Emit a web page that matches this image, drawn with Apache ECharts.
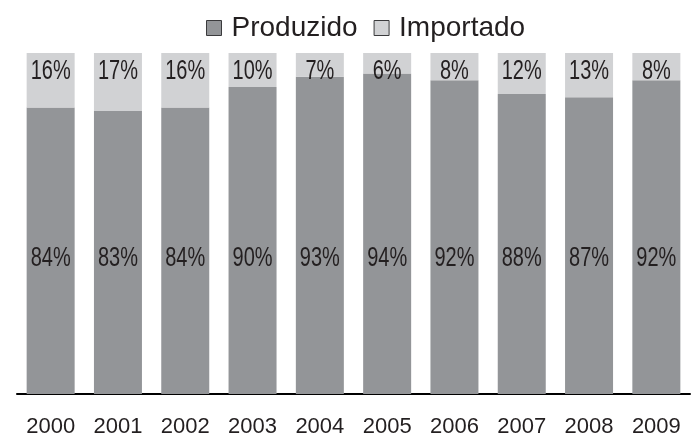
<!DOCTYPE html>
<html>
<head>
<meta charset="utf-8">
<script src="https://cdn.jsdelivr.net/npm/echarts@6/dist/echarts.min.js"></script>
<style>
html, body { margin: 0; padding: 0; background: #fff; }
#chart { width: 700px; height: 443px; }
</style>
</head>
<body>
<div id="chart"></div>
<script>
var years = ['2000', '2001', '2002', '2003', '2004', '2005', '2006', '2007', '2008', '2009'];
var produzido = [84, 83, 84, 90, 93, 94, 92, 88, 87, 92];
var importado = [16, 17, 16, 10, 7, 6, 8, 12, 13, 8];

var textColor = '#231f20';
var labelFont = '27px "Liberation Sans", Arial, sans-serif';

// value labels are drawn as narrow text (the original uses a condensed face)
var labelRows = years.map(function (y, i) {
    return [i, produzido[i], importado[i]];
});

function narrowText(x, y, text, vAlign) {
    return {
        type: 'text',
        x: x,
        y: y,
        scaleX: 0.74,
        style: {
            text: text,
            x: 0,
            y: 0,
            font: labelFont,
            fill: textColor,
            textAlign: 'center',
            align: 'center',
            textVerticalAlign: vAlign,
            verticalAlign: vAlign
        }
    };
}

var myChart = echarts.init(document.getElementById('chart'));
var option = {
    animation: false,
    legend: {
        left: 201,
        top: 9,
        itemWidth: 15,
        itemHeight: 15,
        itemGap: 16,
        icon: 'rect',
        textStyle: {
            fontFamily: '"Liberation Sans", Arial, sans-serif',
            fontSize: 28,
            color: textColor,
            padding: [0, 0, 0, 5]
        },
        data: [
            { name: 'Produzido', itemStyle: { borderColor: '#3a3a3c', borderWidth: 1 } },
            { name: 'Importado', itemStyle: { borderColor: '#3a3a3c', borderWidth: 1 } }
        ]
    },
    grid: {
        left: 17,
        right: 10,
        top: 53,
        bottom: 49
    },
    xAxis: {
        type: 'category',
        data: years,
        axisLine: { lineStyle: { color: '#000', width: 2 } },
        axisTick: { show: false },
        axisLabel: {
            interval: 0,
            margin: 22,
            fontFamily: '"Liberation Sans", Arial, sans-serif',
            fontSize: 22,
            color: textColor
        }
    },
    yAxis: {
        type: 'value',
        min: 0,
        max: 100,
        show: false
    },
    series: [
        {
            name: 'Produzido',
            type: 'bar',
            stack: 'total',
            barWidth: 48,
            itemStyle: { color: '#939598' },
            data: produzido
        },
        {
            name: 'Importado',
            type: 'bar',
            stack: 'total',
            barWidth: 48,
            itemStyle: { color: '#d1d2d4' },
            data: importado
        },
        {
            name: 'labels',
            type: 'custom',
            z: 5,
            silent: true,
            encode: { x: 0, y: 1 },
            renderItem: function (params, api) {
                var idx = api.value(0);
                var top = api.coord([idx, 100]);
                var base = api.coord([idx, 0]);
                return {
                    type: 'group',
                    children: [
                        narrowText(top[0], top[1] + 5, api.value(2) + '%', 'top'),
                        narrowText(base[0], base[1] - 122, api.value(1) + '%', 'bottom')
                    ]
                };
            },
            data: labelRows
        }
    ]
};
myChart.setOption(option);
</script>
</body>
</html>
